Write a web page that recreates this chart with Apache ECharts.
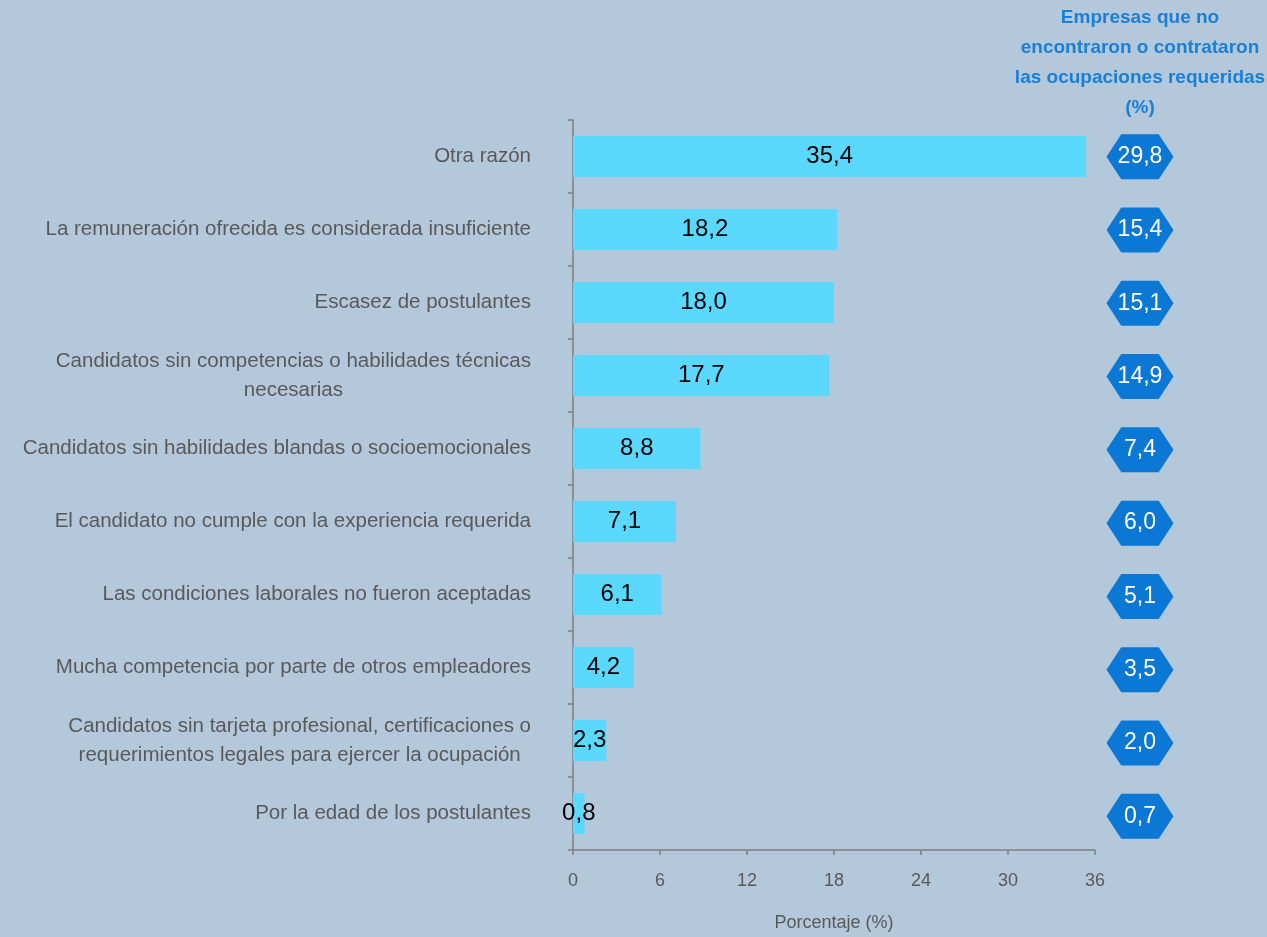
<!DOCTYPE html>
<html>
<head>
<meta charset="utf-8">
<script src="https://cdn.jsdelivr.net/npm/echarts@6/dist/echarts.min.js"></script>
<style>
  html, body { margin: 0; padding: 0; background: #b4c8dc; }
  #chart { width: 1267px; height: 937px; }
</style>
</head>
<body>
<div id="chart"></div>
<script>
const categories = [
  'Otra razón',
  'La remuneración ofrecida es considerada insuficiente',
  'Escasez de postulantes',
  'Candidatos sin competencias o habilidades técnicas\nnecesarias',
  'Candidatos sin habilidades blandas o socioemocionales',
  'El candidato no cumple con la experiencia requerida',
  'Las condiciones laborales no fueron aceptadas',
  'Mucha competencia por parte de otros empleadores',
  'Candidatos sin tarjeta profesional, certificaciones o\nrequerimientos legales para ejercer la ocupación',
  'Por la edad de los postulantes'
]
const porcentaje = [35.4, 18.2, 18.0, 17.7, 8.8, 7.1, 6.1, 4.2, 2.3, 0.8]
const empresas = [29.8, 15.4, 15.1, 14.9, 7.4, 6.0, 5.1, 3.5, 2.0, 0.7]
const xTicks = { min: 0, max: 36, interval: 6 }

const fmt = (v) => v.toFixed(1).replace('.', ',')
const font = 'Liberation Sans'
const hexagon = 'path://M0,50 L22,0 L78,0 L100,50 L78,100 L22,100 Z'

const option = {
  backgroundColor: '#b4c8dc',
  animation: false,
  textStyle: { fontFamily: font },
  grid: [
    { left: 573, right: 172, top: 120, bottom: 84 },
    { left: 1107, width: 66, top: 120, bottom: 84 },
  ],
  xAxis: [
    {
      gridIndex: 0,
      type: 'value',
      min: xTicks.min,
      max: xTicks.max,
      interval: xTicks.interval,
      name: 'Porcentaje (%)',
      nameLocation: 'middle',
      nameGap: 64,
      nameTextStyle: { color: '#595959', fontSize: 18, fontFamily: font },
      axisLine: { show: true, lineStyle: { color: '#7f7f7f', width: 1.5 } },
      axisTick: { show: true, length: 5, lineStyle: { color: '#7f7f7f', width: 1.5 } },
      axisLabel: { color: '#595959', fontSize: 18, margin: 22, fontFamily: font },
      splitLine: { show: false },
    },
    { gridIndex: 1, type: 'value', min: 0, max: 1, show: false },
  ],
  yAxis: [
    {
      gridIndex: 0,
      type: 'category',
      inverse: true,
      data: categories,
      axisLine: { show: true, lineStyle: { color: '#7f7f7f', width: 1.5 } },
      axisTick: { show: true, length: 5, lineStyle: { color: '#7f7f7f', width: 1.5 } },
      axisLabel: {
        margin: 42,
        color: '#595959',
        fontSize: 20.5,
        lineHeight: 29,
        fontFamily: font,
        formatter: (v) => '{c|' + v + '}',
        rich: { c: { align: 'center', color: '#595959', fontSize: 20.5, lineHeight: 29, fontFamily: font } },
      },
    },
    { gridIndex: 1, type: 'category', inverse: true, data: categories, show: false },
  ],
  series: [
    {
      type: 'bar',
      xAxisIndex: 0,
      yAxisIndex: 0,
      data: porcentaje,
      barWidth: 41,
      itemStyle: { color: '#5ad8fd' },
      label: {
        show: true,
        position: 'inside',
        color: '#000000',
        fontSize: 24,
        fontFamily: font,
        formatter: (p) => fmt(p.value),
      },
    },
    {
      type: 'scatter',
      xAxisIndex: 1,
      yAxisIndex: 1,
      data: empresas.map((v, i) => [0.5, i, v]),
      symbol: hexagon,
      symbolSize: [67, 45],
      itemStyle: { color: '#0a78d4', opacity: 1 },
      label: {
        show: true,
        position: 'inside',
        color: '#ffffff',
        fontSize: 23,
        fontFamily: font,
        formatter: (p) => fmt(p.value[2]),
      },
    },
  ],
  graphic: [
    {
      type: 'text',
      x: 1140,
      y: 3,
      style: {
        text: 'Empresas que no\nencontraron o contrataron\nlas ocupaciones requeridas\n(%)',
        align: 'center',
        fill: '#1a7fd6',
        fontSize: 19,
        fontWeight: 'bold',
        lineHeight: 30,
        fontFamily: font,
      },
    },
  ],
}

const myChart = echarts.init(document.getElementById('chart'))
myChart.setOption(option)
</script>
</body>
</html>
